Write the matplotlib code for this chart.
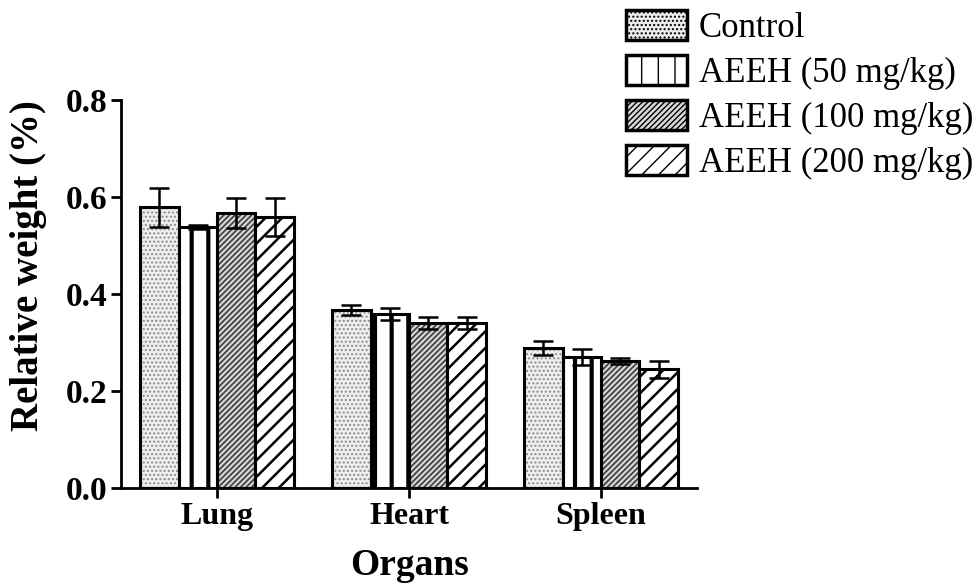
import numpy as np
import matplotlib
matplotlib.use('Agg')
import matplotlib.pyplot as plt
from matplotlib.patches import Patch

plt.rcParams['font.family'] = ['Liberation Serif', 'DejaVu Serif']

# data
organs = ['Lung', 'Heart', 'Spleen']
groups = ['Control', 'AEEH (50 mg/kg)', 'AEEH (100 mg/kg)', 'AEEH (200 mg/kg)']
means = [
    [0.579, 0.367, 0.289],   # Control
    [0.538, 0.359, 0.270],   # 50
    [0.567, 0.340, 0.262],   # 100
    [0.559, 0.340, 0.245],   # 200
]
errs = [
    [0.040, 0.010, 0.014],
    [0.004, 0.012, 0.016],
    [0.031, 0.012, 0.007],
    [0.040, 0.012, 0.018],
]

# pattern, hatch colour, face colour
styles = [
    ('....', '#8c8c8c', '#eeeeee'),
    ('|', 'black', 'white'),
    ('//////', '#444444', '#d9d9d9'),
    ('//', 'black', 'white'),
]
hatch_lw = [1.0, 3.0, 1.3, 1.8]

fig = plt.figure(figsize=(9.79, 5.86), dpi=100)
ax = fig.add_axes([0.1236, 0.167, 0.5884, 0.662])

x = np.arange(len(organs))
w = 0.2
for i in range(4):
    pos = x + (i - 1.5) * w
    hatch, hc, fc = styles[i]
    with plt.rc_context({'hatch.linewidth': hatch_lw[i]}):
        ax.bar(pos, means[i], w, color=fc, edgecolor=hc, hatch=hatch, linewidth=0, zorder=2)
    ax.bar(pos, means[i], w, facecolor='none', edgecolor='black', linewidth=2.2, zorder=3)
    ax.errorbar(pos, means[i], yerr=errs[i], fmt='none', ecolor='black',
                elinewidth=1.8, capsize=7, capthick=1.8, zorder=4)

ax.set_xlim(-0.5, 2.5)
ax.set_ylim(0, 0.8)
ax.set_yticks([0.0, 0.2, 0.4, 0.6, 0.8])
ax.set_yticklabels(['0.0', '0.2', '0.4', '0.6', '0.8'])
ax.set_xticks(x)
ax.set_xticklabels(organs)
for s in ['top', 'right']:
    ax.spines[s].set_visible(False)
for s in ['left', 'bottom']:
    ax.spines[s].set_linewidth(2.0)
ax.tick_params(axis='both', direction='out', width=2.0, length=7, labelsize=24)
for lab in ax.get_xticklabels() + ax.get_yticklabels():
    lab.set_fontweight('bold')
ax.tick_params(axis='x', labelsize=23, pad=3)
ax.tick_params(axis='y', pad=3)

ax.set_ylabel('Relative weight (%)', fontsize=28, fontweight='bold')
ax.yaxis.set_label_coords(-0.128, 0.575)
ax.set_xlabel('Organs', fontsize=27, fontweight='bold', labelpad=12)

handles = []
for i in range(4):
    hatch, hc, fc = styles[i]
    handles.append(Patch(facecolor=fc, edgecolor='black', hatch=hatch, linewidth=2.5))
leg = fig.legend(handles, groups, loc='upper right', bbox_to_anchor=(1.005, 1.0),
                 frameon=False, fontsize=25, handlelength=1.75, handleheight=0.92,
                 handletextpad=0.35, labelspacing=0.3, borderaxespad=0.1,
                 borderpad=0.2)

fig.savefig('out.png', dpi=100)
